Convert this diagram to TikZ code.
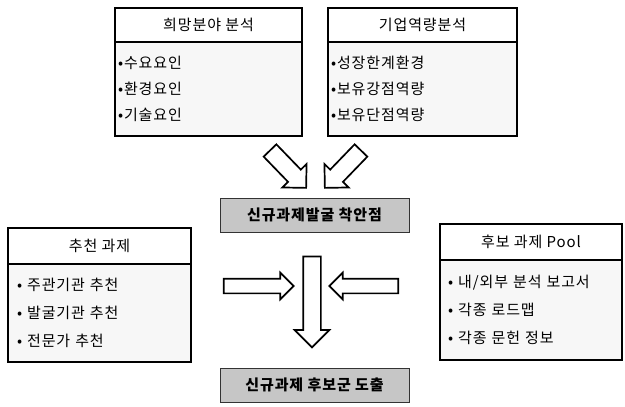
\documentclass[tikz,border=0pt]{standalone}
\usepackage{fontspec}
\setmainfont{Noto Sans CJK KR}[LetterSpace=6]
\usetikzlibrary{shapes.arrows}

\tikzset{
  boxhead/.style={draw, line width=1.6pt, fill=white, inner sep=0pt,
    font=\fontsize{15}{16}\selectfont},
  boxbody/.style={draw, line width=1.6pt, fill=black!3, align=left, inner ysep=0pt},
  keybox/.style={draw=black!80, line width=0.8pt, fill=gray!45, inner sep=0pt,
    minimum width=189pt, minimum height=34pt, font=\bfseries\fontsize{15}{16}\selectfont},
  blockarrow/.style={single arrow, draw, line width=1.7pt, fill=white,
    inner xsep=0pt, single arrow tip angle=90}
}

\begin{document}
\begin{tikzpicture}[x=1pt, y=-1pt]
    \useasboundingbox (0,0) rectangle (625,407);

    % top boxes
    \node[boxhead, minimum width=187pt, minimum height=34pt] (hope) at (208.5,25) {희망분야 분석};
    \node[boxbody, minimum width=187pt, minimum height=94pt, inner xsep=3pt, text width=181pt,
        font=\fontsize{15}{26}\selectfont] (hopelist) at (208.5,89)
        {•수요요인\\•환경요인\\•기술요인};

    \node[boxhead, minimum width=189pt, minimum height=34pt] (comp) at (422.5,25) {기업역량분석};
    \node[boxbody, minimum width=189pt, minimum height=94pt, inner xsep=3pt, text width=183pt,
        font=\fontsize{15}{26}\selectfont] (complist) at (422.5,89)
        {•성장한계환경\\•보유강점역량\\•보유단점역량};

    % middle
    \node[keybox] (idea) at (314.5,215) {신규과제발굴 착안점};
    \node[keybox] (result) at (314.5,385) {신규과제 후보군 도출};

    % bottom boxes
    \node[boxhead, minimum width=183pt, minimum height=36pt] (rec) at (99.5,246) {추천 과제};
    \node[boxbody, minimum width=183pt, minimum height=98pt, inner xsep=9pt, text width=165pt,
        font=\fontsize{15}{28}\selectfont] (reclist) at (99.5,313)
        {• 주관기관 추천\\• 발굴기관 추천\\• 전문가 추천};

    \node[boxhead, minimum width=182pt, minimum height=36pt] (pool) at (531,242) {후보 과제 Pool};
    \node[boxbody, minimum width=182pt, minimum height=100pt, inner xsep=8pt, text width=166pt,
        font=\fontsize{15}{28}\selectfont] (poollist) at (531,310)
        {• 내/외부 분석 보고서\\• 각종 로드맵\\• 각종 문헌 정보};

    % block arrows
    \node[blockarrow, inner ysep=8pt, single arrow head extend=8pt, minimum height=52pt,
        rotate=-46] (arrhope) at (285,166) {};
    \node[blockarrow, inner ysep=8pt, single arrow head extend=8pt, minimum height=52pt,
        rotate=-134] (arrcomp) at (346,166) {};
    \node[blockarrow, inner ysep=8pt, single arrow head extend=8.5pt, minimum height=91pt,
        rotate=-90] (arrdown) at (312,297.5) {};
    \node[blockarrow, inner ysep=6.5pt, single arrow head extend=6pt, minimum height=70pt]
        (arrrec) at (255,286) {};
    \node[blockarrow, inner ysep=6.5pt, single arrow head extend=6pt, minimum height=69pt,
        rotate=180] (arrpool) at (367.5,286) {};
\end{tikzpicture}
\end{document}
